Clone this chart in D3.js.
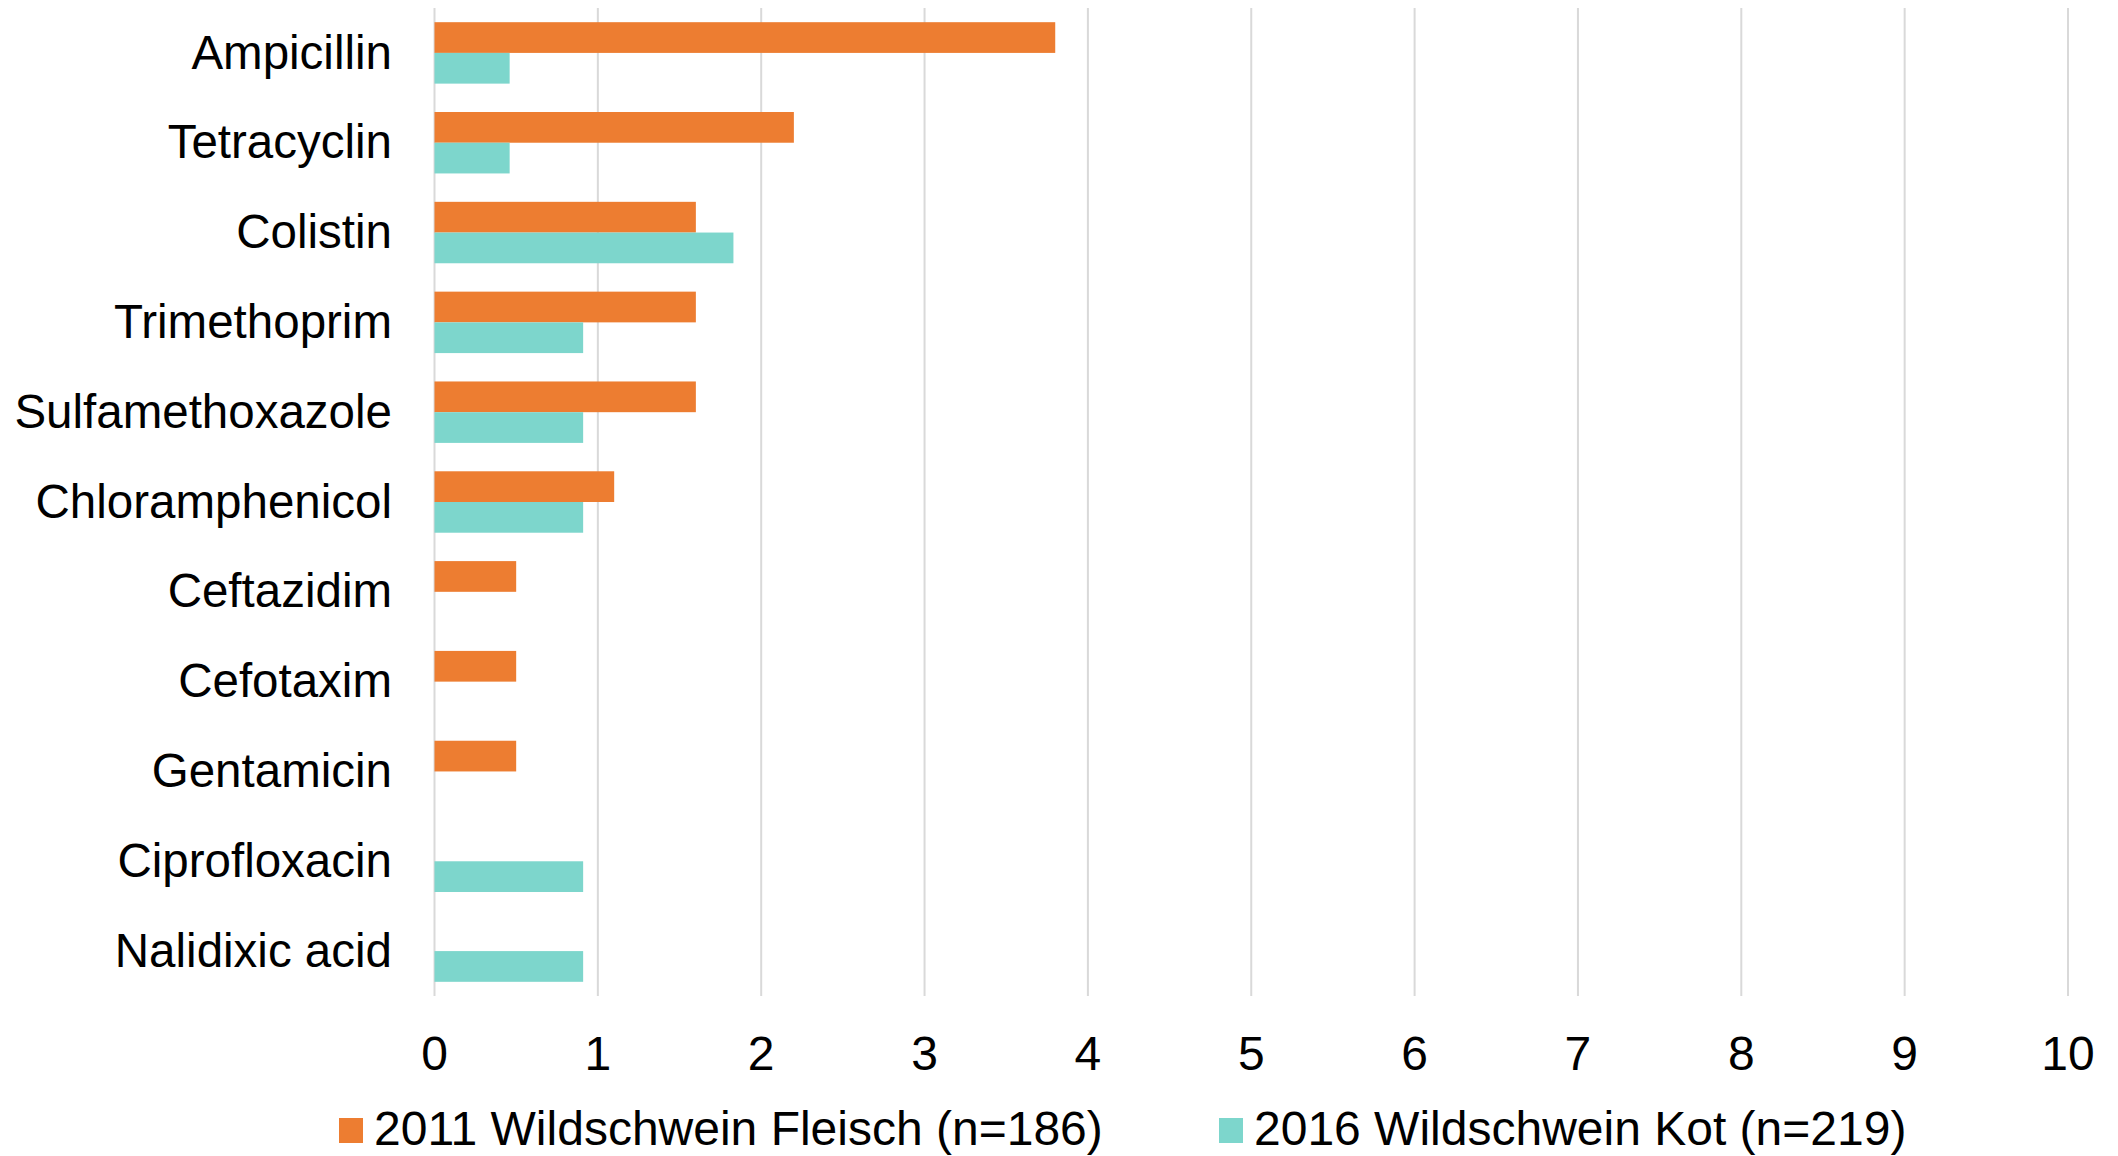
<!DOCTYPE html>
<html>
<head>
<meta charset="utf-8">
<script src="https://cdn.jsdelivr.net/npm/d3@7"></script>
<style>
  html, body { margin: 0; padding: 0; background: #ffffff; }
  svg { display: block; font-family: "Liberation Sans", Arial, sans-serif; }
</style>
</head>
<body>
<svg id="chart" width="2118" height="1156"></svg>
<script>
// Antibiotics tested (top to bottom)
const categories = [
  "Ampicillin", "Tetracyclin", "Colistin", "Trimethoprim", "Sulfamethoxazole",
  "Chloramphenicol", "Ceftazidim", "Cefotaxim", "Gentamicin", "Ciprofloxacin", "Nalidixic acid"
];

// Resistance rates (%) per series
const fleisch2011 = [3.8, 2.2, 1.6, 1.6, 1.6, 1.1, 0.5, 0.5, 0.5, 0, 0];
const kot2016     = [0.46, 0.46, 1.83, 0.91, 0.91, 0.91, 0, 0, 0, 0.91, 0.91];

const seriesNames = ["2011 Wildschwein Fleisch (n=186)", "2016 Wildschwein Kot (n=219)"];
const seriesColors = ["#ED7D31", "#7DD6CC"];
const tickValues = [0, 1, 2, 3, 4, 5, 6, 7, 8, 9, 10];

const series = [fleisch2011, kot2016];

const svg = d3.select("#chart");

const plot = { left: 434.5, right: 2068, top: 8, bottom: 996 };

const x = d3.scaleLinear().domain([0, 10]).range([plot.left, plot.right]);

const y = d3.scaleBand()
  .domain(categories)
  .range([plot.top, plot.bottom])
  .paddingInner(0.316)
  .paddingOuter(0.158);

const inner = d3.scaleBand()
  .domain([0, 1])
  .range([0, y.bandwidth()]);

// Vertical gridlines
svg.append("g")
  .selectAll("line")
  .data(tickValues)
  .join("line")
  .attr("x1", d => x(d))
  .attr("x2", d => x(d))
  .attr("y1", plot.top)
  .attr("y2", plot.bottom)
  .attr("stroke", "#D9D9D9")
  .attr("stroke-width", 2);

// Bars
const groups = svg.append("g")
  .selectAll("g")
  .data(categories)
  .join("g")
  .attr("transform", d => `translate(0,${y(d)})`);

groups.selectAll("rect")
  .data((d, i) => series.map((s, k) => ({ k, v: s[i] })))
  .join("rect")
  .attr("x", x(0))
  .attr("y", d => inner(d.k))
  .attr("width", d => x(d.v) - x(0))
  .attr("height", inner.bandwidth())
  .attr("fill", d => seriesColors[d.k]);

// Category labels
svg.append("g")
  .selectAll("text")
  .data(categories)
  .join("text")
  .attr("x", 392)
  .attr("y", d => y(d) + y.bandwidth() / 2)
  .attr("dy", "0.33em")
  .attr("text-anchor", "end")
  .attr("font-size", 47.5)
  .attr("fill", "#000")
  .text(d => d);

// X axis tick labels
svg.append("g")
  .selectAll("text")
  .data(tickValues)
  .join("text")
  .attr("x", d => x(d))
  .attr("y", 1070)
  .attr("text-anchor", "middle")
  .attr("font-size", 48)
  .attr("fill", "#000")
  .text(d => d);

// Legend
const legendX = [339, 1219];
const legend = svg.append("g")
  .selectAll("g")
  .data(seriesNames)
  .join("g")
  .attr("transform", (d, i) => `translate(${legendX[i]},0)`);

legend.append("rect")
  .attr("x", 0)
  .attr("y", 1118)
  .attr("width", 24)
  .attr("height", 25)
  .attr("fill", (d, i) => seriesColors[i]);

legend.append("text")
  .attr("x", 35)
  .attr("y", 1145)
  .attr("font-size", 48)
  .attr("fill", "#000")
  .text(d => d);
</script>
</body>
</html>
